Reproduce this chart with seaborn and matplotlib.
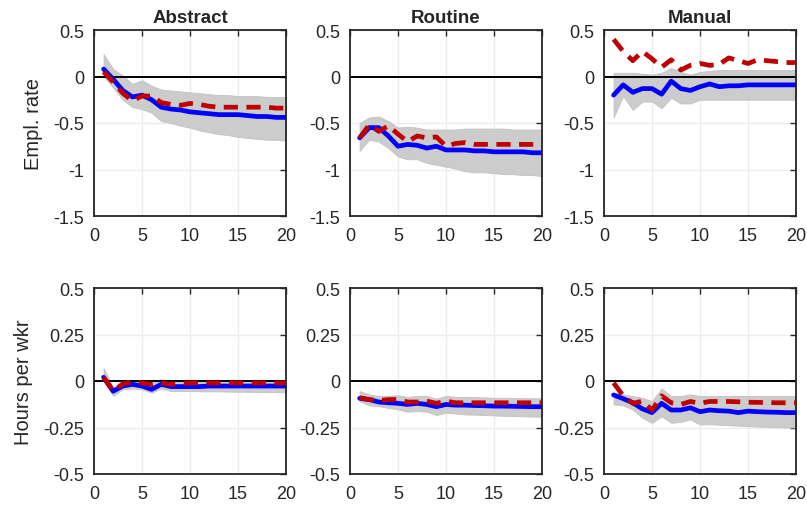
import matplotlib
matplotlib.use("Agg")
import matplotlib.pyplot as plt
import seaborn as sns
import numpy as np
import pandas as pd

# horizon
horizon = list(range(1, 21))

groups = ["Abstract", "Routine", "Manual"]
row_labels = ["Empl. rate", "Hours per wkr"]

# employment rate responses (blue = estimate, red = model)
emp_blue = {
    "Abstract": [0.08, -0.03, -0.15, -0.22, -0.20, -0.25, -0.33, -0.35, -0.36, -0.38,
                 -0.39, -0.40, -0.41, -0.41, -0.41, -0.42, -0.43, -0.43, -0.44, -0.44],
    "Routine": [-0.66, -0.55, -0.55, -0.64, -0.75, -0.73, -0.74, -0.77, -0.75, -0.79,
                -0.79, -0.79, -0.80, -0.80, -0.81, -0.81, -0.81, -0.81, -0.82, -0.82],
    "Manual": [-0.20, -0.09, -0.17, -0.13, -0.13, -0.19, -0.05, -0.13, -0.15, -0.11,
               -0.08, -0.11, -0.10, -0.10, -0.09, -0.09, -0.09, -0.09, -0.09, -0.09],
}
emp_red = {
    "Abstract": [0.05, -0.06, -0.18, -0.26, -0.21, -0.21, -0.28, -0.30, -0.31, -0.29,
                 -0.30, -0.32, -0.33, -0.33, -0.33, -0.33, -0.33, -0.33, -0.34, -0.34],
    "Routine": [-0.66, -0.52, -0.59, -0.53, -0.62, -0.70, -0.64, -0.66, -0.65, -0.75,
                -0.72, -0.71, -0.73, -0.73, -0.73, -0.73, -0.73, -0.73, -0.73, -0.73],
    "Manual": [0.40, 0.27, 0.17, 0.27, 0.19, 0.10, 0.18, 0.07, 0.12, 0.14,
               0.12, 0.13, 0.20, 0.17, 0.14, 0.18, 0.17, 0.16, 0.15, 0.15],
}
emp_hi = {
    "Abstract": [0.24, 0.08, 0.01, -0.08, -0.04, -0.10, -0.14, -0.15, -0.16, -0.17,
                 -0.18, -0.19, -0.20, -0.20, -0.21, -0.21, -0.21, -0.22, -0.22, -0.22],
    "Routine": [-0.50, -0.44, -0.43, -0.48, -0.55, -0.54, -0.55, -0.57, -0.57, -0.57,
                -0.57, -0.56, -0.56, -0.56, -0.56, -0.56, -0.57, -0.57, -0.57, -0.57],
    "Manual": [0.04, 0.04, 0.04, 0.03, 0.02, 0.04, 0.09, 0.05, 0.02, 0.05,
               0.06, 0.07, 0.07, 0.07, 0.07, 0.07, 0.07, 0.07, 0.07, 0.07],
}
emp_lo = {
    "Abstract": [0.00, -0.12, -0.25, -0.33, -0.35, -0.39, -0.48, -0.50, -0.53, -0.55,
                 -0.58, -0.60, -0.62, -0.63, -0.65, -0.66, -0.67, -0.68, -0.68, -0.69],
    "Routine": [-0.80, -0.68, -0.70, -0.77, -0.86, -0.89, -0.89, -0.93, -0.95, -0.97,
                -0.99, -1.02, -1.03, -1.03, -1.04, -1.05, -1.05, -1.06, -1.06, -1.07],
    "Manual": [-0.44, -0.21, -0.36, -0.27, -0.27, -0.34, -0.23, -0.29, -0.29, -0.25,
               -0.25, -0.25, -0.25, -0.25, -0.25, -0.25, -0.25, -0.25, -0.25, -0.25],
}

# hours per worker responses
hrs_blue = {
    "Abstract": [0.02, -0.055, -0.027, -0.018, -0.027, -0.045, -0.018, -0.03, -0.03, -0.03,
                 -0.03, -0.027, -0.027, -0.027, -0.027, -0.027, -0.027, -0.027, -0.027, -0.027],
    "Routine": [-0.093, -0.10, -0.113, -0.117, -0.12, -0.126, -0.12, -0.126, -0.138, -0.126,
                -0.13, -0.13, -0.132, -0.133, -0.135, -0.135, -0.136, -0.137, -0.138, -0.138],
    "Manual": [-0.075, -0.095, -0.117, -0.15, -0.17, -0.12, -0.156, -0.156, -0.144, -0.165,
               -0.156, -0.16, -0.162, -0.17, -0.162, -0.165, -0.167, -0.168, -0.17, -0.17],
}
hrs_red = {
    "Abstract": [0.02, -0.055, -0.015, -0.005, -0.01, -0.018, -0.01, -0.018, -0.012, -0.01,
                 -0.01, -0.01, -0.01, -0.01, -0.01, -0.01, -0.01, -0.01, -0.01, -0.01],
    "Routine": [-0.09, -0.10, -0.105, -0.10, -0.099, -0.113, -0.113, -0.108, -0.12, -0.108,
                -0.117, -0.117, -0.117, -0.117, -0.117, -0.117, -0.117, -0.117, -0.117, -0.117],
    "Manual": [-0.01, -0.08, -0.12, -0.108, -0.156, -0.08, -0.117, -0.126, -0.11, -0.12,
               -0.11, -0.11, -0.11, -0.112, -0.114, -0.115, -0.116, -0.117, -0.117, -0.117],
}
hrs_hi = {
    "Abstract": [0.07, -0.035, -0.01, 0.0, -0.005, -0.008, 0.01, -0.004, -0.004, -0.004,
                 -0.004, -0.003, -0.002, -0.002, -0.001, 0.0, 0.0, 0.0, 0.0, 0.0],
    "Routine": [-0.054, -0.072, -0.081, -0.079, -0.077, -0.086, -0.08, -0.08, -0.095, -0.08,
                -0.085, -0.086, -0.087, -0.088, -0.09, -0.09, -0.091, -0.092, -0.093, -0.093],
    "Manual": [-0.063, -0.072, -0.081, -0.09, -0.108, -0.04, -0.081, -0.081, -0.072, -0.081,
               -0.08, -0.08, -0.08, -0.08, -0.081, -0.081, -0.081, -0.081, -0.081, -0.081],
}
hrs_lo = {
    "Abstract": [0.0, -0.08, -0.045, -0.04, -0.045, -0.063, -0.04, -0.054, -0.054, -0.054,
                 -0.055, -0.056, -0.056, -0.057, -0.058, -0.058, -0.059, -0.06, -0.06, -0.06],
    "Routine": [-0.108, -0.131, -0.135, -0.145, -0.153, -0.165, -0.162, -0.165, -0.183, -0.17,
                -0.175, -0.18, -0.181, -0.183, -0.185, -0.187, -0.188, -0.19, -0.191, -0.192],
    "Manual": [-0.126, -0.131, -0.153, -0.198, -0.225, -0.19, -0.225, -0.22, -0.207, -0.234,
               -0.232, -0.235, -0.238, -0.24, -0.243, -0.245, -0.246, -0.248, -0.25, -0.25],
}

rows = [
    (emp_blue, emp_red, emp_hi, emp_lo),
    (hrs_blue, hrs_red, hrs_hi, hrs_lo),
]
row_ticks = [
    [-1.5, -1, -0.5, 0, 0.5],
    [-0.5, -0.25, 0, 0.25, 0.5],
]
row_ticklabels = [
    ["-1.5", "-1", "-0.5", "0", "0.5"],
    ["-0.5", "-0.25", "0", "0.25", "0.5"],
]
label_x = [-0.266, -0.318]

sns.set_style("white")
plt.rcParams["font.family"] = ["Liberation Sans", "DejaVu Sans"]
plt.rcParams["axes.unicode_minus"] = False

fig = plt.figure(figsize=(8.07, 5.10), dpi=100)

lefts = [94, 350, 604]
tops = [31, 289]
w_px, h_px = 192, 186
W, H = 807, 510

for r, (blue, red, hi, lo) in enumerate(rows):
    for c, g in enumerate(groups):
        ax = fig.add_axes([lefts[c] / W, 1 - (tops[r] + h_px) / H, w_px / W, h_px / H])
        df = pd.DataFrame({"h": horizon, "est": blue[g], "mod": red[g],
                           "hi": hi[g], "lo": lo[g]})
        ax.fill_between(df["h"], df["lo"], df["hi"], color="#cccccc",
                        edgecolor="#c2c2c2", linewidth=0.6, zorder=1)
        ax.axhline(0, color="black", linewidth=1.4, zorder=2)
        sns.lineplot(data=df, x="h", y="est", ax=ax, color="#0000ff",
                     linewidth=3.4, zorder=3)
        sns.lineplot(data=df, x="h", y="mod", ax=ax, color="#c00000",
                     linewidth=3.4, zorder=4, dashes=False)
        ax.lines[-1].set_dashes((3, 1.8))

        ax.set_xlim(0, 20)
        ax.set_ylim(row_ticks[r][0], row_ticks[r][-1])
        ax.set_xticks([0, 5, 10, 15, 20])
        ax.set_yticks(row_ticks[r])
        ax.set_yticklabels(row_ticklabels[r])
        ax.grid(True, color="#ececec", linewidth=1.0)
        ax.set_axisbelow(True)
        ax.tick_params(direction="in", length=4, width=1.0, top=True, right=True,
                       labelsize=13, colors="#262626")
        ax.tick_params(axis="x", pad=8.2)
        ax.tick_params(axis="y", pad=7)
        for s in ax.spines.values():
            s.set_color("#262626")
            s.set_linewidth(1.3)
        ax.set_xlabel("")
        if c == 0:
            ax.set_ylabel(row_labels[r], fontsize=14.5, color="#262626")
            ax.yaxis.set_label_coords(label_x[r], 0.5)
        else:
            ax.set_ylabel("")
        if r == 0:
            ax.set_title(g, fontsize=13.5, fontweight="bold", pad=5.5)

fig.savefig("out.png", dpi=100)
